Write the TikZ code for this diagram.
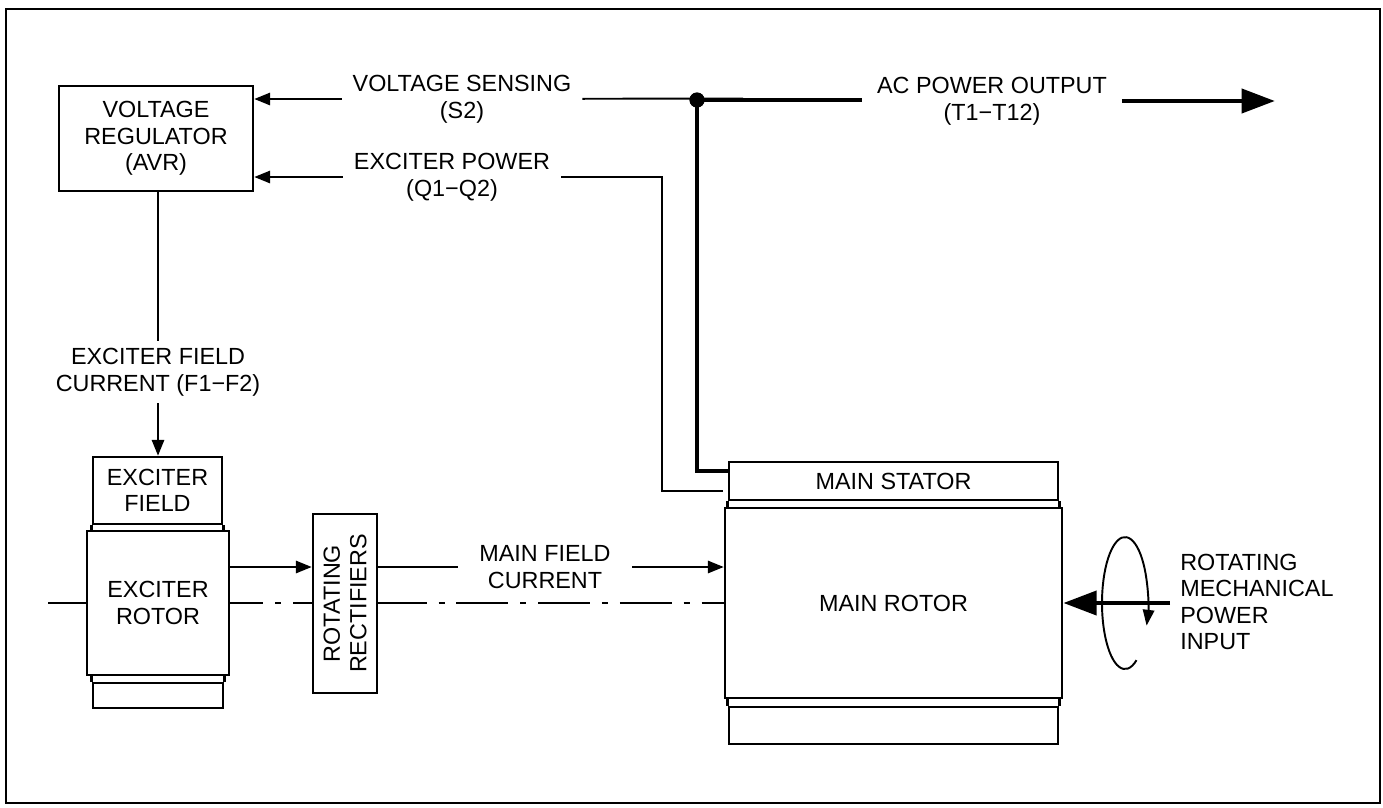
\documentclass[tikz,border=0pt]{standalone}
\usepackage{fontspec}
\setmainfont{Liberation Sans}
\usetikzlibrary{positioning,arrows.meta,calc}
\definecolor{cInk}{HTML}{000000}
\tikzset{
  blk/.style={draw=cInk,line width=1.5pt,fill=white,align=center,inner sep=0pt},
  rim/.style={line width=1.5pt,draw=cInk},
  lbl/.style={align=center,inner xsep=0.22cm,inner ysep=0.1cm,outer sep=0pt},
  wire/.style={line width=1.1pt,draw=cInk},
  arr/.style={wire,-{Triangle[length=9pt,width=7pt]}},
  pwr/.style={line width=2.8pt,draw=cInk},
  pwrarr/.style={pwr,-{Triangle[length=19pt,width=13.5pt]}},
  axisln/.style={line width=0.7pt,draw=cInk,dash pattern=on 29.5pt off 6.8pt on 3.4pt off 6.8pt},
  dotn/.style={circle,fill=cInk,inner sep=0pt,minimum size=0.3cm},
}

\begin{document}
\begin{tikzpicture}[x=0.02cm,y=-0.02cm,font=\fontsize{13.3}{15.1}\selectfont]
  \useasboundingbox (0,0) rectangle (1383,808);
  \draw[rim] (6,9) rectangle (1380,803);

  % shaft axis, behind the boxes
  \coordinate (axl) at (48,603);
  \coordinate (axr) at (725,603);
  \draw[axisln] (axl) -- (axr);

  % exciter side
  \node[blk,minimum width=3.88cm,minimum height=2.1cm] (avr) at (156,138.5) {VOLTAGE\\REGULATOR\\(AVR)};
  \node[blk,minimum width=2.58cm,minimum height=1.34cm] (exfield) at (157.5,490.5) {EXCITER\\FIELD};
  \node[blk,minimum width=2.84cm,minimum height=2.88cm] (exrotor) at (158,603) {EXCITER\\ROTOR};
  \node[blk,minimum width=2.6cm,minimum height=0.5cm] (exbot) at (158,695.5) {};
  \node[blk,minimum width=1.28cm,minimum height=3.58cm] (rect) at (345,603.5) {};
  \node[rotate=90,align=center] (recttxt) at (rect) {ROTATING\\RECTIFIERS};
  \draw[rim] (exfield.south west) -- (exfield.south west |- exrotor.north);
  \draw[rim] (exfield.south east) -- (exfield.south east |- exrotor.north);
  \draw[rim] (exbot.north west) -- (exbot.north west |- exrotor.south);
  \draw[rim] (exbot.north east) -- (exbot.north east |- exrotor.south);

  % main machine
  \node[blk,minimum width=6.58cm,minimum height=0.76cm] (stator) at (893.5,481) {MAIN STATOR};
  \node[blk,minimum width=6.74cm,minimum height=3.8cm] (rotor) at (893.5,603) {MAIN ROTOR};
  \node[blk,minimum width=6.58cm,minimum height=0.74cm] (mbot) at (893.5,725.5) {};
  \draw[rim] (stator.south west) -- (stator.south west |- rotor.north);
  \draw[rim] (stator.south east) -- (stator.south east |- rotor.north);
  \draw[rim] (mbot.north west) -- (mbot.north west |- rotor.south);
  \draw[rim] (mbot.north east) -- (mbot.north east |- rotor.south);

  % labels
  \node[dotn] (dot) at (697,100) {};
  \node[lbl] (vs) at (462,99) {VOLTAGE SENSING\\(S2)};
  \node[lbl] (exp) at (452,177) {EXCITER POWER\\(Q1−Q2)};
  \node[lbl,inner xsep=0.3cm] (acp) at (992,101) {AC POWER OUTPUT\\(T1−T12)};
  \node[lbl,inner xsep=0.43cm] (mfc) at (545,567) {MAIN FIELD\\CURRENT};
  \node[lbl,inner ysep=0.15cm] (efc) at (158,372) {EXCITER FIELD\\CURRENT (F1−F2)};
  \node[align=left,anchor=west,inner sep=0pt] (mech) at (1180,602) {ROTATING\\MECHANICAL\\POWER\\INPUT};

  % connectors
  \coordinate (vsend) at (743,98.5);
  \coordinate (acpend) at (1275,101);
  \coordinate (bendq) at (662,177);
  \coordinate (exout) at ($(exrotor.east)+(0,-36)$);
  \coordinate (mechin) at (1170,603);
  \coordinate (spin) at (1136.5,660.2);

  \draw[arr] (vs) -- (avr.east |- vs);
  \draw[wire] (vs) -- (vsend);
  \draw[arr] (exp) -- (avr.east |- exp);
  \draw[wire] (exp) -- (bendq) |- ([xshift=-0.09cm,yshift=-0.2cm]stator.west);
  \draw[pwr] (dot.center) -- (dot.center -| acp.west);
  \draw[pwrarr] (acp) -- (acpend);
  \draw[pwr] (dot.center) |- ([yshift=0.2cm]stator.west);
  \node[dotn] at (dot) {};
  \draw[wire] (avr.south -| efc) -- (efc);
  \draw[arr] (efc) -- (efc |- exfield.north);
  \draw[arr] (exout) -- (exout -| rect.west);
  \draw[wire] (rect.east |- mfc) -- (mfc);
  \draw[arr] (mfc) -- (mfc -| rotor.west);
  \draw[wire,-{Triangle[length=9pt,width=6.5pt]}] (spin) arc[start angle=-60,end angle=-380,x radius=0.46cm,y radius=1.32cm];
  \draw[pwrarr] (mechin) -- (rotor.east);
\end{tikzpicture}
\end{document}
